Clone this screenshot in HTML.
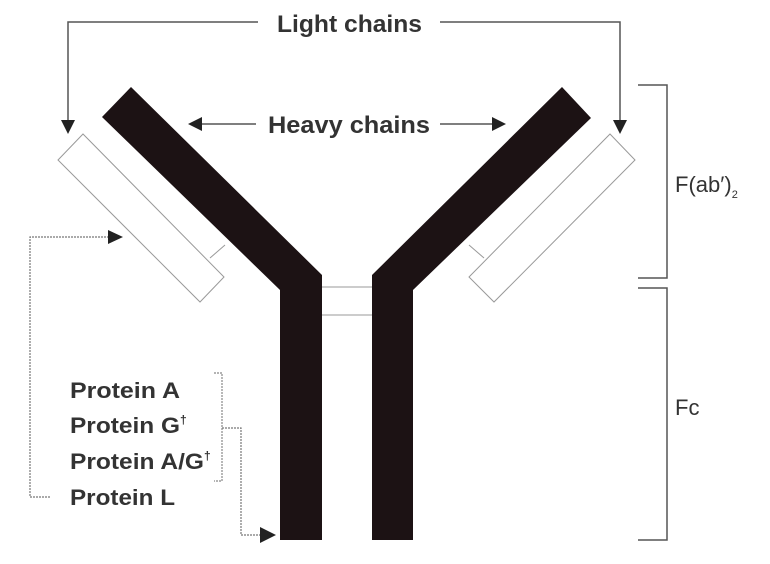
<!DOCTYPE html>
<html><head><style>
body{margin:0;background:#fff;}
svg{display:block;}
text{font-family:"Liberation Sans",sans-serif;font-weight:bold;fill:#333;}
</style></head><body>
<svg width="770" height="564" viewBox="0 0 770 564" xmlns="http://www.w3.org/2000/svg">
<polygon points="131,87 322,275 322,540 280,540 280,290 102,117" fill="#1c1214"/>
<polygon points="562,87 591,118 413,290 413,540 372,540 372,275" fill="#1c1214"/>
<line x1="322" y1="287" x2="372" y2="287" stroke="#999" stroke-width="1"/>
<line x1="322" y1="315" x2="372" y2="315" stroke="#999" stroke-width="1"/>
<polygon points="83,134 224,277 200,302 58,160" fill="#fff" stroke="#999" stroke-width="1"/>
<polyline points="210,258 225,245" fill="none" stroke="#999"/>
<polygon points="610,134 635,160 494,302 469,277" fill="#fff" stroke="#999" stroke-width="1"/>
<polyline points="484,258 469,245" fill="none" stroke="#999"/>
<polyline points="258,22 68,22 68,122" fill="none" stroke="#555" stroke-width="1.5"/>
<polygon points="61,120 75,120 68,134" fill="#222"/>
<polyline points="440,22 620,22 620,122" fill="none" stroke="#555" stroke-width="1.5"/>
<polygon points="613,120 627,120 620,134" fill="#222"/>
<text x="277" y="32" font-size="24" textLength="145" lengthAdjust="spacingAndGlyphs">Light chains</text>
<line x1="200" y1="124" x2="256" y2="124" stroke="#555" stroke-width="1.5"/>
<polygon points="188,124 202,117 202,131" fill="#222"/>
<line x1="440" y1="124" x2="494" y2="124" stroke="#555" stroke-width="1.5"/>
<polygon points="506,124 492,117 492,131" fill="#222"/>
<text x="268" y="133" font-size="24" textLength="162" lengthAdjust="spacingAndGlyphs">Heavy chains</text>
<polyline points="638,85 667,85 667,278 638,278" fill="none" stroke="#555" stroke-width="1.5"/>
<polyline points="638,288 667,288 667,540 638,540" fill="none" stroke="#555" stroke-width="1.5"/>
<text x="675" y="192" font-size="22" style="font-weight:normal">F(ab′)<tspan font-size="11" dy="6">2</tspan></text>
<text x="675" y="415" font-size="22" style="font-weight:normal">Fc</text>
<text x="70" y="398" font-size="22" textLength="110" lengthAdjust="spacingAndGlyphs">Protein A</text>
<text x="70" y="433" font-size="22"><tspan textLength="110" lengthAdjust="spacingAndGlyphs">Protein G</tspan><tspan font-size="12" dy="-9">†</tspan></text>
<text x="70" y="469" font-size="22"><tspan textLength="134" lengthAdjust="spacingAndGlyphs">Protein A/G</tspan><tspan font-size="12" dy="-9">†</tspan></text>
<text x="70" y="505" font-size="22" textLength="105" lengthAdjust="spacingAndGlyphs">Protein L</text>
<polyline points="50,497 30,497 30,237 108,237" fill="none" stroke="#777" stroke-width="1.2" stroke-dasharray="2,1"/>
<polygon points="123,237 108,230 108,244" fill="#222"/>
<polyline points="214,373 222,373 222,481 214,481" fill="none" stroke="#888" stroke-width="1.2" stroke-dasharray="2,1"/>
<polyline points="222,428 241,428 241,535 262,535" fill="none" stroke="#777" stroke-width="1.2" stroke-dasharray="2,1"/>
<polygon points="276,535 260,527 260,543" fill="#222"/>
</svg>
</body></html>
